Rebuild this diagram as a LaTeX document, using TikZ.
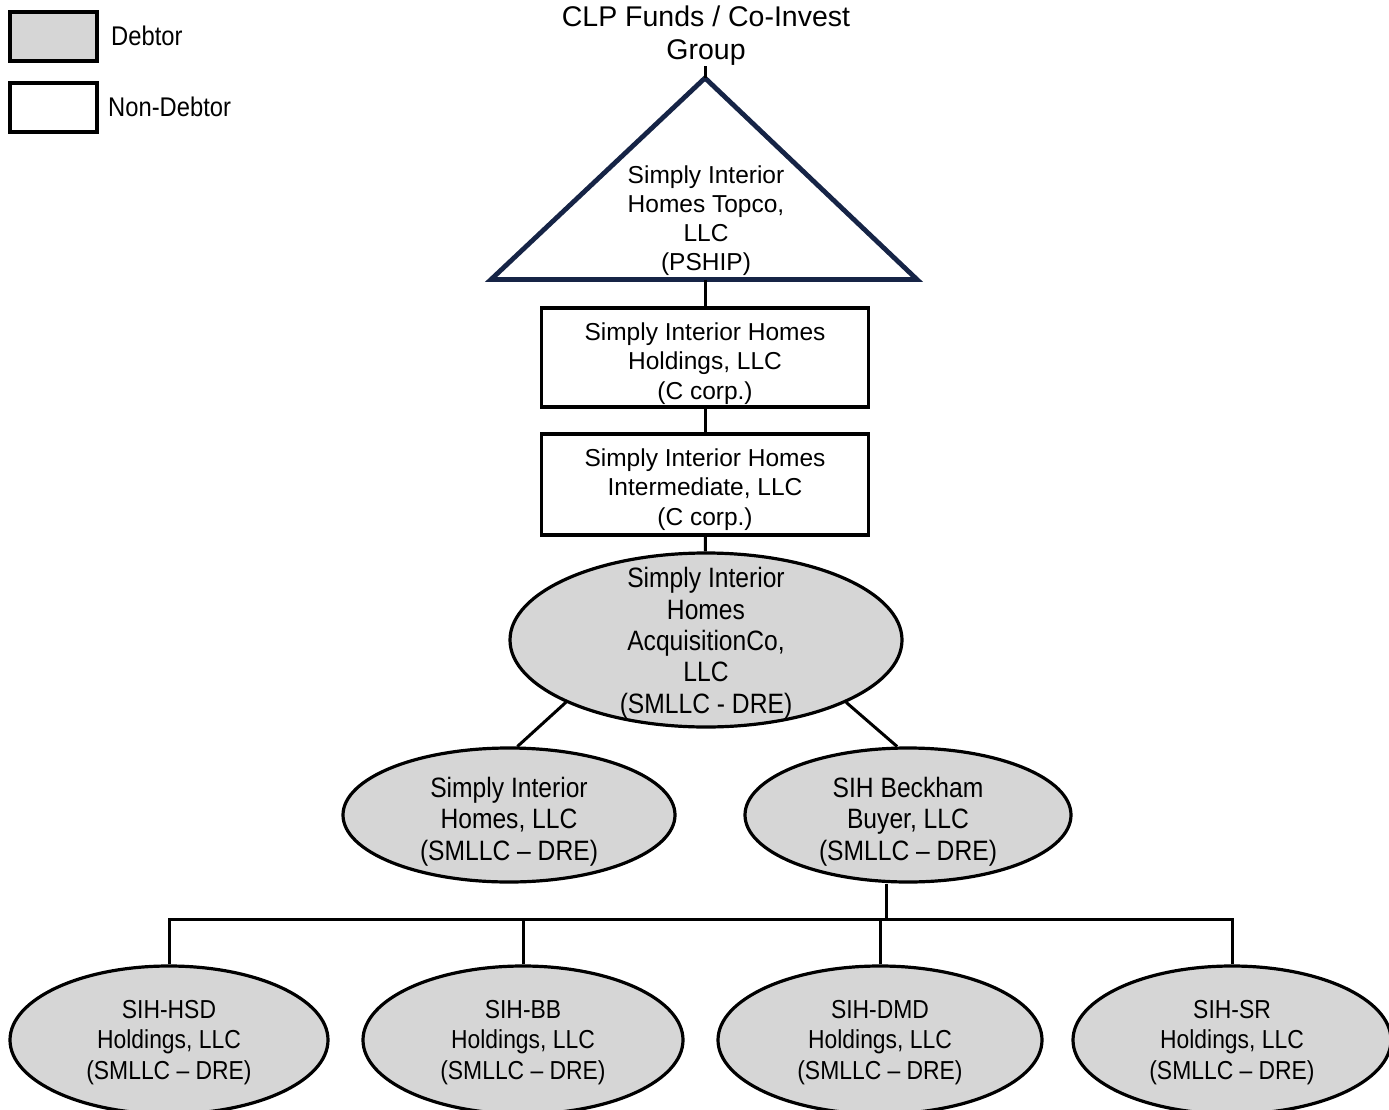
\documentclass[tikz,border=0pt]{standalone}
\usepackage{fontspec}
\setmainfont{Liberation Sans}
\newfontfamily\narrowsf{Liberation Sans}[FakeStretch=0.88]
\usepackage{xcolor}
\usetikzlibrary{shapes}

\definecolor{debtgray}{RGB}{214,214,214}
\definecolor{navy}{RGB}{22,36,70}

\tikzset{
  boxtxt/.style={align=center,inner sep=0pt,anchor=base,font=\fontsize{24.5}{29.5}\selectfont},
  elltxt/.style={align=center,inner sep=0pt,anchor=base,font=\narrowsf\fontsize{28}{31.3}\selectfont},
  bottxt/.style={align=center,inner sep=0pt,anchor=base,font=\narrowsf\fontsize{26}{30.5}\selectfont},
  debtor/.style={ellipse,draw,line width=3.2pt,fill=debtgray,inner sep=0pt},
  nondebtor/.style={rectangle,draw,line width=3.2pt,fill=white,inner sep=0pt},
  link/.style={line width=3pt}
}

\begin{document}
\begin{tikzpicture}[x=1pt,y=-1pt]
        \useasboundingbox (0,0) rectangle (1389,1110);
        %legend
        \node[nondebtor,fill=debtgray,minimum width=87,minimum height=49] (legD) at (53.5,36.5) {};
        \node[nondebtor,minimum width=87,minimum height=49] (legN) at (53.5,107.5) {};
        \node[elltxt,anchor=base west,font=\narrowsf\fontsize{27}{31}\selectfont] (legDt) at (111,46) {Debtor};
        \node[elltxt,anchor=base west,font=\narrowsf\fontsize{27}{31}\selectfont] (legNt) at (108,117) {Non-Debtor};
        %top (base anchor = last line)
        \node[boxtxt,font=\fontsize{28.5}{33}\selectfont] (clp) at (706,60) {CLP Funds / Co-Invest\\Group};
        \coordinate (topA) at (705,78);
        \coordinate (topL) at (491,279.5);
        \coordinate (topR) at (917,279.5);
        \coordinate (topB) at (705,279.5);
        \draw[navy,line width=4.8pt,line join=miter] (topA) -- (topL) -- (topR) -- cycle;
        \node[boxtxt,font=\fontsize{24.5}{29}\selectfont] (topco) at (706,270)
            {Simply Interior\\Homes Topco,\\LLC\\(PSHIP)};
        %boxes
        \node[nondebtor,minimum width=327,minimum height=99] (hold) at (705,357.5) {};
        \node[boxtxt] (holdT) at (705,399) {Simply Interior Homes\\Holdings, LLC\\(C corp.)};
        \node[nondebtor,minimum width=327,minimum height=101] (inter) at (705,484.5) {};
        \node[boxtxt] (interT) at (705,525) {Simply Interior Homes\\Intermediate, LLC\\(C corp.)};
        %ellipses
        \node[debtor,minimum width=392,minimum height=174] (acq) at (706,640) {};
        \node[elltxt] (acqT) at (706,713) {Simply Interior\\Homes\\AcquisitionCo,\\LLC\\(SMLLC - DRE)};
        \node[debtor,minimum width=332,minimum height=134] (sih) at (509,815) {};
        \node[elltxt] (sihT) at (509,860) {Simply Interior\\Homes, LLC\\(SMLLC – DRE)};
        \node[debtor,minimum width=326,minimum height=134] (beck) at (908,815) {};
        \node[elltxt] (beckT) at (908,860) {SIH Beckham\\Buyer, LLC\\(SMLLC – DRE)};
        %bottom row
        \node[debtor,minimum width=318,minimum height=148] (hsd) at (169,1040) {};
        \node[bottxt] (hsdT) at (169,1079) {SIH-HSD\\Holdings, LLC\\(SMLLC – DRE)};
        \node[debtor,minimum width=320,minimum height=148] (bb) at (523,1040) {};
        \node[bottxt] (bbT) at (523,1079) {SIH-BB\\Holdings, LLC\\(SMLLC – DRE)};
        \node[debtor,minimum width=324,minimum height=148] (dmd) at (880,1040) {};
        \node[bottxt] (dmdT) at (880,1079) {SIH-DMD\\Holdings, LLC\\(SMLLC – DRE)};
        \node[debtor,minimum width=318,minimum height=148] (sr) at (1232,1040) {};
        \node[bottxt] (srT) at (1232,1079) {SIH-SR\\Holdings, LLC\\(SMLLC – DRE)};
        \coordinate (bus) at (886,919);
        %links
        \draw[link] (clp.south -| topA) -- (topA);
        \draw[link] (topB) -- (hold);
        \draw[link] (hold) -- (inter);
        \draw[link] (inter) -- (acq);
        \draw[link] (acq.204) -- (sih.83);
        \draw[link] (acq.336) -- (beck.99);
        \draw[link] (bus) -- (bus |- beck.south);
        \draw[link] (hsd.north) -- (hsd.north |- bus) -- (sr.north |- bus) -- (sr.north);
        \draw[link] (bb.north) -- (bb.north |- bus);
        \draw[link] (dmd.north) -- (dmd.north |- bus);
    \end{tikzpicture}
\end{document}
